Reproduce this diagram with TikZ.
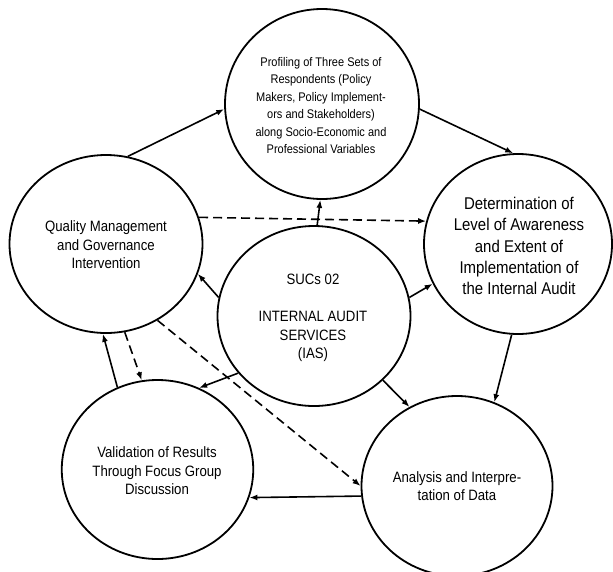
\documentclass[tikz,border=0pt]{standalone}
\usepackage{fontspec}
\newfontfamily\narrow{Liberation Sans}[FakeStretch=0.88]
\usetikzlibrary{shapes.geometric,arrows.meta}
\begin{document}
\begin{tikzpicture}[x=1pt,y=-1pt,
  stage/.style={ellipse, draw, line width=1.8pt, inner sep=0pt},
  caption/.style={align=center, inner sep=0pt, font={\narrow\fontsize{15}{18.5}\selectfont}},
  flow/.style={line width=1.6pt, -{Latex[length=8pt,width=6pt]}},
  link/.style={flow, dash pattern=on 9pt off 5pt}]
\useasboundingbox (0,0) rectangle (613,571);
\fill[white] (0,0) rectangle (613,571);

% the six stages of the study
\node[stage, minimum width=194pt, minimum height=190pt] (T) at (322,104) {};
\node[stage, minimum width=188pt, minimum height=180pt] (R) at (518,244) {};
\node[stage, minimum width=193pt, minimum height=178pt] (L) at (106,244) {};
\node[stage, minimum width=193pt, minimum height=180pt] (C) at (314,316) {};
\node[stage, minimum width=191.5pt, minimum height=179pt] (BL) at (157.5,469.5) {};
\node[stage, minimum width=191pt, minimum height=180pt] (BR) at (457,486) {};

% stage captions
\node[caption, font={\narrow\fontsize{12.5}{17.4}\selectfont}] (Ttext) at (321,105.5)
  {Profiling of Three Sets of\\Respondents (Policy\\Makers, Policy Implement-\\ors and Stakeholders)\\along Socio-Economic and\\Professional Variables};
\node[caption, font={\narrow\fontsize{17}{21.3}\selectfont}] (Rtext) at (519,246)
  {Determination of\\Level of Awareness\\and Extent of\\Implementation of\\the Internal Audit};
\node[caption] (Ltext) at (106,245) {Quality Management\\and Governance\\Intervention};
\node[caption] (Ctext) at (313,318) {SUCs 02\\[18.2pt]INTERNAL AUDIT\\SERVICES\\(IAS)};
\node[caption] (BLtext) at (157,471) {Validation of Results\\Through Focus Group\\Discussion};
\node[caption] (BRtext) at (457,486) {Analysis and Interpre-\\tation of Data};

% outer cycle
\draw[flow] (L.76.6) -- (T.183.5);
\draw[flow] (T.357) -- (R.93.9);
\draw[flow] (R.266.5) -- (BR.66.9);
\draw[flow] (BR.186.5) -- (BL.343.2);
\draw[flow] (BL.116.4) -- (L.268.7);

% feedback from the intervention stage
\draw[link] (L.282.6) -- (BL.100.3);
\draw[link] (L.304.9) -- (BR.180);
\draw[link] (L.16.8) -- (R.166);

% from the hub to every stage
\draw[flow] (C.88.7) -- (T.269.2);
\draw[flow] (C.169.5) -- (L.342.6);
\draw[flow] (C.11.2) -- (R.205.6);
\draw[flow] (C.217.9) -- (BL.63.3);
\draw[flow] (C.317.2) -- (BR.121.1);
\end{tikzpicture}
\end{document}
